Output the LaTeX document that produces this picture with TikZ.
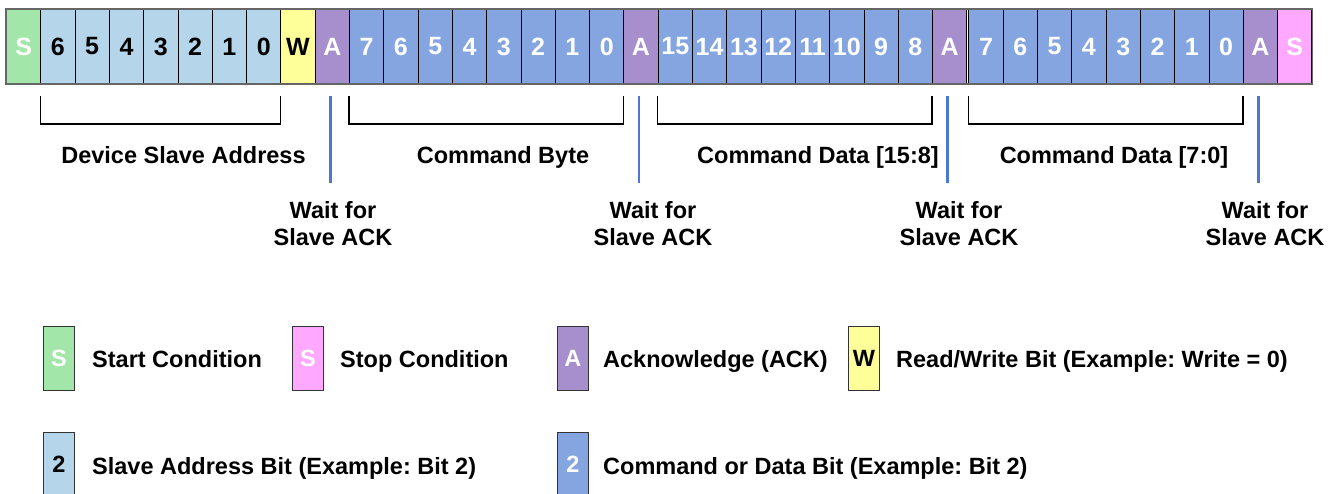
\documentclass[tikz,border=0pt]{standalone}
\usepackage{fontspec}
\setmainfont{Liberation Sans}
\usetikzlibrary{calc}
\frenchspacing
\definecolor{cgreen}{RGB}{163,230,170}
\definecolor{caddr}{RGB}{180,213,234}
\definecolor{cyel}{RGB}{255,255,153}
\definecolor{cack}{RGB}{166,143,204}
\definecolor{cdata}{RGB}{133,165,224}
\definecolor{cpink}{RGB}{255,168,255}
\definecolor{cline}{RGB}{75,120,215}
\newcommand{\bigf}{\fontsize{23.5}{27}\selectfont\bfseries}
\newcommand{\cellf}{\fontsize{25}{27}\selectfont\bfseries}
\begin{document}
\begin{tikzpicture}[x=1pt,y=-1pt,
 cellbox/.style={draw=black, line width=0.9pt, minimum width=34.3pt, minimum height=74pt, inner sep=0pt, anchor=north west, font=\cellf},
 cellS/.style={cellbox, fill=cgreen, text=white},
 cellP/.style={cellbox, fill=cpink, text=white},
 cellAddr/.style={cellbox, fill=caddr, text=black},
 cellW/.style={cellbox, fill=cyel, text=black},
 cellAck/.style={cellbox, fill=cack, text=white},
 cellData/.style={cellbox, fill=cdata, text=white},
 legbox/.style={draw=black!80, line width=0.9pt, minimum width=31pt, minimum height=64pt, inner sep=0pt, anchor=north west, font=\bigf},
 legtext/.style={anchor=base west, font=\bigf, inner sep=0pt},
 lbl/.style={anchor=base, font=\bigf, inner sep=0pt},
 waitlbl/.style={font=\bigf, align=center, inner sep=0pt},
 brk/.style={draw=black, line width=1.5pt},
 ackline/.style={draw=cline, line width=2.5pt}]
\useasboundingbox (0,0) rectangle (1337,494);
\clip (0,0) rectangle (1337,494);
% ---- top row of bit cells ----
\node[cellS] (c0) at (6,9) {S};
\foreach \lab [count=\k from 1] in {6,5,4,3,2,1,0}
  \node[cellAddr] (c\k) at ({6+34.3*\k},9) {\lab};
\node[cellW] (c8) at ({6+34.3*8},9) {W};
\node[cellAck] (c9) at ({6+34.3*9},9) {A};
\foreach \lab [count=\k from 10] in {7,6,5,4,3,2,1,0}
  \node[cellData] (c\k) at ({6+34.3*\k},9) {\lab};
\node[cellAck] (c18) at ({6+34.3*18},9) {A};
\foreach \lab [count=\k from 19] in {15,14,13,12,11,10,9,8}
  \node[cellData] (c\k) at ({6+34.3*\k},9) {\lab};
\node[cellAck] (c27) at ({6+34.3*27},9) {A};
\foreach \lab [count=\k from 28] in {7,6,5,4,3,2,1,0}
  \node[cellData] (c\k) at ({8+34.3*\k},9) {\lab};
\node[cellAck] (c36) at ({8+34.3*36},9) {A};
\node[cellP] (c37) at ({8+34.3*37},9) {S};
\draw[draw=black!60, line width=1.4pt] (c0.north west) rectangle (c37.south east);
% ---- brackets ----
\draw[brk] ([yshift=-12pt]c1.south west) -- ([yshift=-40pt]c1.south west) -- ([yshift=-40pt]c8.south west) -- ([yshift=-12pt]c8.south west);
\draw[brk] ([yshift=-12pt]c10.south west) -- ([yshift=-40pt]c10.south west) -- ([yshift=-40pt]c18.south west) -- ([yshift=-12pt]c18.south west);
\draw[brk] ([yshift=-12pt]c19.south west) -- ([yshift=-40pt]c19.south west) -- ([yshift=-40pt]c27.south west) -- ([yshift=-12pt]c27.south west);
\draw[brk] ([yshift=-12pt]c28.south west) -- ([yshift=-40pt]c28.south west) -- ([yshift=-40pt]c36.south west) -- ([yshift=-12pt]c36.south west);
% ---- ack marker lines ----
\foreach \a in {9,18,27,36}
  \draw[ackline] ([xshift=-2pt,yshift=-12pt]c\a.south) -- ([xshift=-2pt,yshift=-99pt]c\a.south);
% ---- field labels ----
\node[lbl] (f1) at (183.5,163.5) {Device Slave Address};
\node[lbl] (f2) at (503,163.5) {Command Byte};
\node[lbl] (f3) at (818,163.5) {Command Data [15:8]};
\node[lbl] (f4) at (1114,163.5) {Command Data [7:0]};
\node[waitlbl] (w1) at (333,223.5) {Wait for\\Slave ACK};
\node[waitlbl] (w2) at (653,223.5) {Wait for\\Slave ACK};
\node[waitlbl] (w3) at (959,223.5) {Wait for\\Slave ACK};
\node[waitlbl] (w4) at (1265,223.5) {Wait for\\Slave ACK};
% ---- legend ----
\node[legbox, fill=cgreen, text=white] (k1) at (43,326) {S};
\node[legtext] (t1) at (92,367) {Start Condition};
\node[legbox, fill=cpink, text=white] (k2) at (292,326) {S};
\node[legtext] (t2) at (340,367) {Stop Condition};
\node[legbox, fill=cack, text=white] (k3) at (557,326) {A};
\node[legtext] (t3) at (603,367) {Acknowledge (ACK)};
\node[legbox, fill=cyel, text=black] (k4) at (848,326) {W};
\node[legtext] (t4) at (896,367) {Read/Write Bit (Example: Write = 0)};
\node[legbox, fill=caddr, text=black] (k5) at (43,432) {2};
\node[legtext] (t5) at (92,474) {Slave Address Bit (Example: Bit 2)};
\node[legbox, fill=cdata, text=white] (k6) at (557,432) {2};
\node[legtext] (t6) at (603,474) {Command or Data Bit (Example: Bit 2)};
\end{tikzpicture}
\end{document}
